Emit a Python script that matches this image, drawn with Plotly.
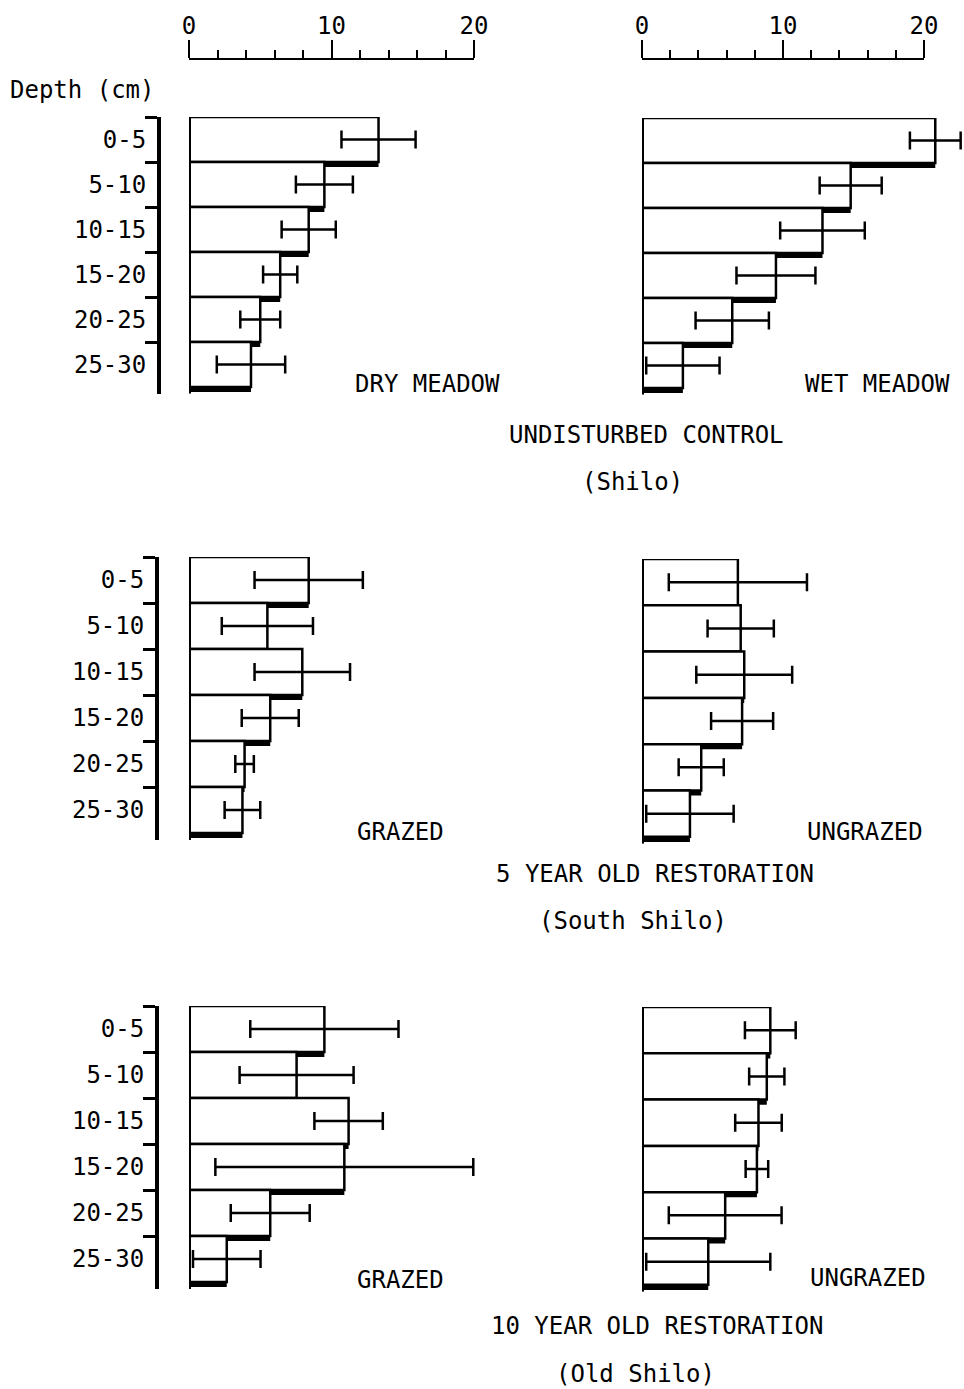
import plotly.graph_objects as go

# ---------------- data ----------------
depths = ["0-5", "5-10", "10-15", "15-20", "20-25", "25-30"]
scale_ticks = [0, 10, 20]

dry_mean = [13.3, 9.5, 8.4, 6.4, 5.0, 4.35]
dry_se = [2.6, 2.0, 1.9, 1.2, 1.4, 2.4]
wet_mean = [20.8, 14.8, 12.8, 9.5, 6.4, 2.9]
wet_se = [1.8, 2.2, 3.0, 2.8, 2.6, 2.6]
g5_mean = [8.4, 5.5, 7.95, 5.7, 3.9, 3.75]
g5_se = [3.8, 3.2, 3.35, 2.0, 0.65, 1.25]
u5_mean = [6.8, 7.0, 7.25, 7.1, 4.2, 3.4]
u5_se = [4.9, 2.35, 3.4, 2.2, 1.6, 3.1]
g10_mean = [9.5, 7.55, 11.2, 10.9, 5.7, 2.65]
g10_se = [5.2, 4.0, 2.4, 9.05, 2.77, 2.37]
u10_mean = [9.1, 8.85, 8.26, 8.15, 5.9, 4.7]
u10_se = [1.8, 1.25, 1.65, 0.8, 4.0, 4.4]

panel_labels = ["DRY MEADOW", "WET MEADOW", "GRAZED", "UNGRAZED", "GRAZED", "UNGRAZED"]
group_titles = ["UNDISTURBED CONTROL", "(Shilo)",
                "5 YEAR OLD RESTORATION", "(South Shilo)",
                "10 YEAR OLD RESTORATION", "(Old Shilo)"]
depth_title = "Depth (cm)"

# ---------------- layout geometry (pixels) ----------------
W, H = 964, 1389
FONT = dict(family="DejaVu Sans Mono", size=24, color="black")
XMAX = 22.8
SH = 0.11  # shadow offset in rows

def px_x(p):
    return p / W

def px_y(p):
    return 1 - p / H

# (mean, se, x0 px, px per unit, top px, row px, bracket x px or None)
panels = [
    (dry_mean, dry_se, 189.0, 14.25, 117, 45.0, 159),
    (wet_mean, wet_se, 642.0, 14.1, 118, 45.0, None),
    (g5_mean, g5_se, 189.0, 14.25, 557, 46.0, 157),
    (u5_mean, u5_se, 642.0, 14.1, 559, 46.3, None),
    (g10_mean, g10_se, 189.0, 14.25, 1006, 46.0, 157),
    (u10_mean, u10_se, 642.0, 14.1, 1007, 46.3, None),
]

fig = go.Figure()
layout = dict(
    template="none",
    width=W, height=H, margin=dict(l=0, r=0, t=0, b=0, pad=0, autoexpand=False),
    paper_bgcolor="white", plot_bgcolor="white",
    barmode="overlay", showlegend=False, font=FONT,
)
shapes = []
yr_bottom = 5.5 + SH + 0.04
for i, (mean, se, x0, ppu, top, rowh, brk) in enumerate(panels, start=1):
    xa = "x" if i == 1 else f"x{i}"
    ya = "y" if i == 1 else f"y{i}"
    fig.add_trace(go.Bar(
        x=mean, y=depths, orientation="h", width=1, offset=-0.5 + SH,
        marker=dict(color="black", line=dict(width=0)),
        xaxis=xa, yaxis=ya, hoverinfo="skip"))
    fig.add_trace(go.Bar(
        x=mean, y=depths, orientation="h", width=1, offset=-0.5,
        marker=dict(color="white", line=dict(color="black", width=2.5)),
        error_x=dict(type="data", array=se, visible=True, color="black",
                     thickness=2.5, width=9),
        xaxis=xa, yaxis=ya))
    height = (yr_bottom + 0.5) * rowh
    xd = [px_x(x0), px_x(x0 + XMAX * ppu)]
    yd = [px_y(top + height), px_y(top)]
    layout["xaxis" if i == 1 else f"xaxis{i}"] = dict(
        domain=xd, range=[0, XMAX], visible=False, anchor=ya, fixedrange=True,
        automargin=False)
    yax = dict(domain=yd, type="category", categoryorder="array",
               categoryarray=depths, range=[yr_bottom, -0.5], anchor=xa,
               showgrid=False, zeroline=False, fixedrange=True, automargin=False)
    if brk is None:
        yax["visible"] = False
    else:
        yax.update(anchor="free", position=px_x(brk), showline=True,
                   linewidth=4, linecolor="black", ticks="outside",
                   tickson="boundaries", ticklen=12, tickwidth=3,
                   tickcolor="black", tickfont=FONT, ticklabelstandoff=6)
    layout["yaxis" if i == 1 else f"yaxis{i}"] = yax
    shapes.append(dict(type="line", xref=xa, yref=ya, x0=0, x1=0,
                       y0=-0.5, y1=yr_bottom, line=dict(color="black", width=4),
                       layer="above"))

# top scale axes (a transparent helper trace makes each scale subplot render)
for j, (x0, ppu) in enumerate([(189.0, 14.25), (642.0, 14.1)], start=7):
    fig.add_trace(go.Scatter(
        x=scale_ticks, y=[0.5] * len(scale_ticks), mode="markers",
        marker=dict(opacity=0, size=1), xaxis=f"x{j}", yaxis=f"y{j}",
        hoverinfo="skip"))
    layout[f"xaxis{j}"] = dict(
        domain=[px_x(x0), px_x(x0 + 20 * ppu)], range=[0, 20], anchor=f"y{j}",
        side="top", showline=True, linewidth=2, linecolor="black",
        ticks="outside", tickvals=scale_ticks, ticktext=[str(v) for v in scale_ticks],
        ticklen=18, tickwidth=2, tickcolor="black", tickfont=FONT,
        ticklabelstandoff=-4,
        minor=dict(dtick=2, tick0=0, ticks="outside", ticklen=8, tickwidth=2,
                   tickcolor="black", showgrid=False),
        showgrid=False, zeroline=False, fixedrange=True, automargin=False)
    layout[f"yaxis{j}"] = dict(domain=[px_y(62), px_y(60)], visible=False,
                               anchor=f"x{j}", range=[0, 1], fixedrange=True,
                               automargin=False)

# text annotations (text, x px, y px)
ann_pos = [
    (depth_title, 82, 90),
    (panel_labels[0], 427, 384), (panel_labels[1], 877, 384),
    (group_titles[0], 646, 435), (group_titles[1], 632, 482),
    (panel_labels[2], 400, 832), (panel_labels[3], 865, 832),
    (group_titles[2], 655, 874), (group_titles[3], 633, 921),
    (panel_labels[4], 400, 1280), (panel_labels[5], 868, 1278),
    (group_titles[4], 657, 1326), (group_titles[5], 635, 1374),
]
layout["annotations"] = [
    dict(text=t, x=px_x(x), y=px_y(y), xref="paper", yref="paper",
         showarrow=False, xanchor="center", yanchor="middle", font=FONT)
    for t, x, y in ann_pos
]
layout["shapes"] = shapes
fig.update_layout(**layout)

fig.write_html("out.html", config={"displayModeBar": False},
               post_script="document.body.style.margin='0';document.body.style.overflow='hidden';")
